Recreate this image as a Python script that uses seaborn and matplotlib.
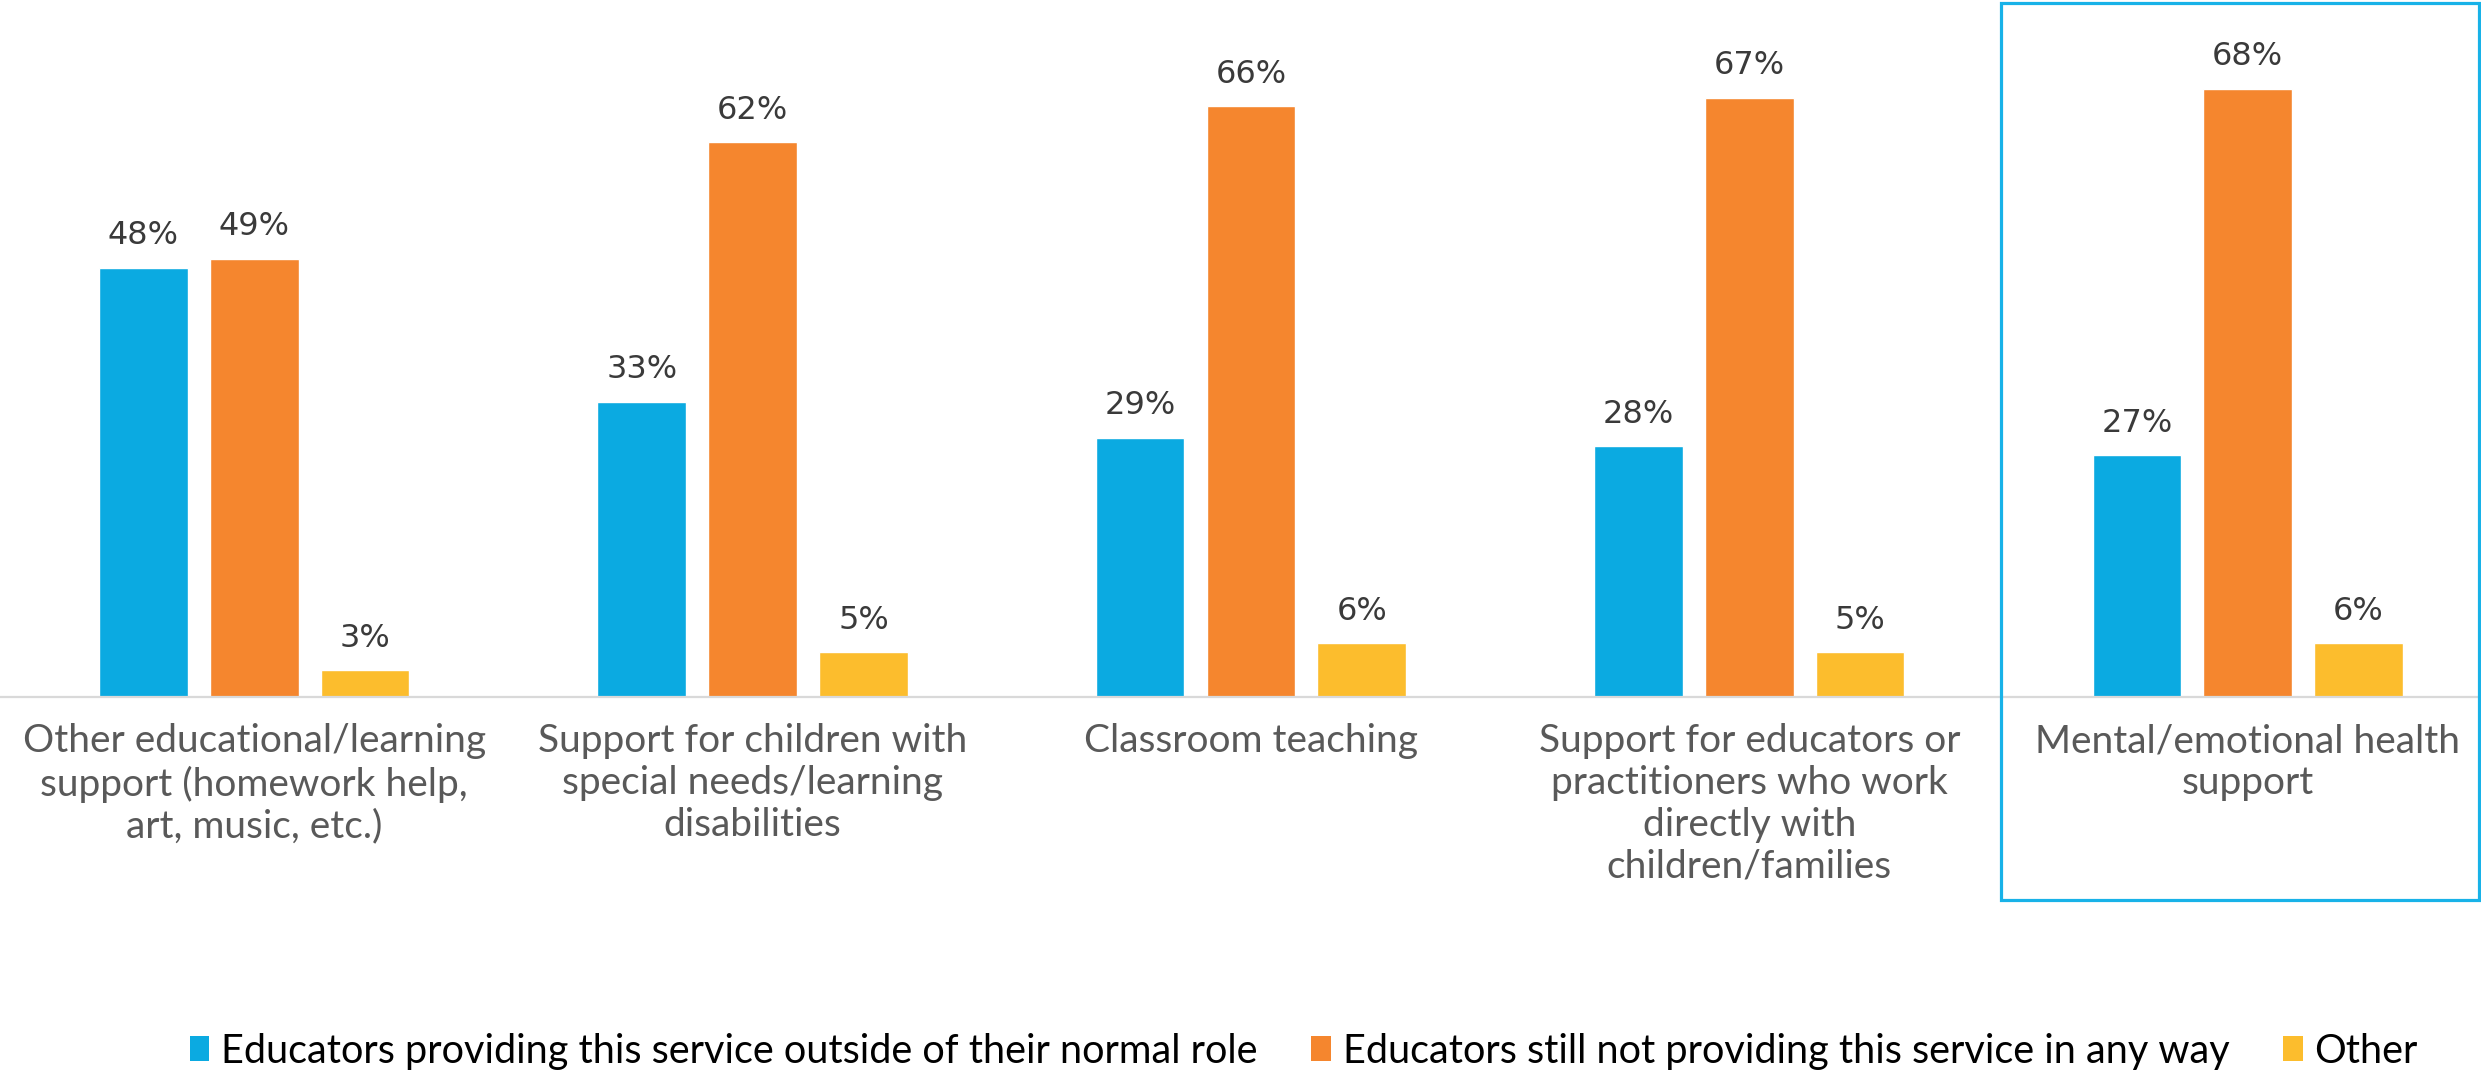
import matplotlib
matplotlib.use("Agg")
import matplotlib.pyplot as plt
from matplotlib.patches import Patch, Rectangle
import pandas as pd
import seaborn as sns

# Survey results: share of educators for each type of service (%)
categories = [
    "Other educational/learning\nsupport (homework help,\nart, music, etc.)",
    "Support for children with\nspecial needs/learning\ndisabilities",
    "Classroom teaching",
    "Support for educators or\npractitioners who work\ndirectly with\nchildren/families",
    "Mental/emotional health\nsupport",
]
series_names = [
    "Educators providing this service outside of their normal role",
    "Educators still not providing this service in any way",
    "Other",
]
outside_role = [48, 33, 29, 28, 27]
not_providing = [49, 62, 66, 67, 68]
other = [3, 5, 6, 5, 6]
colors = ["#0BAAE1", "#F5862E", "#FCBD2D"]

rows = []
for name, vals in zip(series_names, [outside_role, not_providing, other]):
    for cat, v in zip(categories, vals):
        rows.append({"category": cat, "series": name, "value": v})
df = pd.DataFrame(rows)

sns.set_theme(style="white")
plt.rcParams["font.family"] = ["Lato", "DejaVu Sans"]

fig = plt.figure(figsize=(24.81, 10.77), dpi=100)
ax = fig.add_axes([0.0, 0.3528, 1.0, 0.6472])

sns.barplot(
    data=df, x="category", y="value", hue="series",
    order=categories, hue_order=series_names,
    palette=colors, width=0.667, gap=0.2, saturation=1,
    errorbar=None, legend=False, ax=ax,
)

ax.set_xlim(-0.51, 4.468)
ax.set_ylim(0, 77.9)

# value labels above every bar
for container in ax.containers:
    ax.bar_label(container, fmt="%g%%", padding=12, fontsize=23,
                 color="#3A3A3A", family="DejaVu Sans")

for side in ["left", "right", "top"]:
    ax.spines[side].set_visible(False)
ax.spines["bottom"].set_color("#D9D9D9")
ax.spines["bottom"].set_linewidth(1.6)
ax.set_yticks([])
ax.set_xlabel("")
ax.set_ylabel("")
ax.tick_params(axis="x", length=0, pad=19)
for lbl in ax.get_xticklabels():
    lbl.set_fontsize(28)
    lbl.set_color("#595959")
    lbl.set_linespacing(1.2)
    lbl.set_verticalalignment("top")

# highlight frame around the last category
fig.patches.append(Rectangle((0.8065, 0.1643), 0.1925, 0.8327,
                             transform=fig.transFigure, fill=False,
                             edgecolor="#18B2E8", linewidth=2.3))

handles = [Patch(facecolor=c, edgecolor="none") for c in colors]
fig.legend(handles, series_names, loc="center", bbox_to_anchor=(0.5255, 0.024),
           ncol=3, frameon=False, fontsize=28.5, handlelength=0.5,
           handleheight=0.6, handletextpad=0.3, columnspacing=1.35,
           labelcolor="black")

fig.savefig("out.png", dpi=100)
